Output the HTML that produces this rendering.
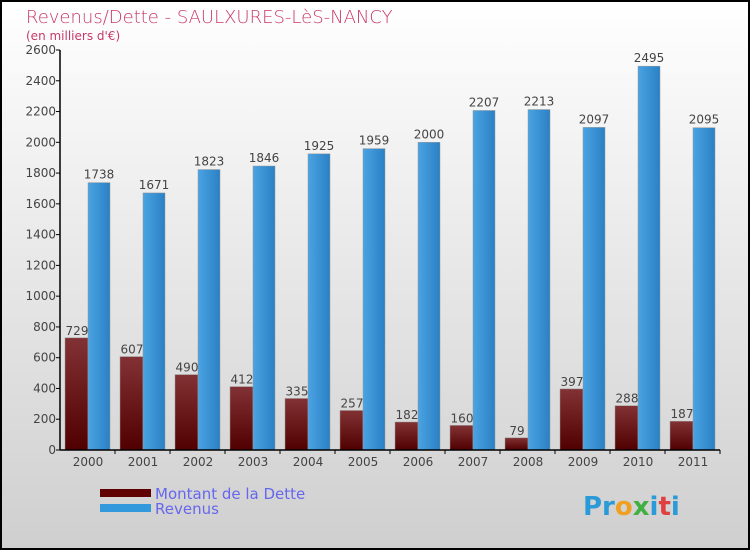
<!DOCTYPE html>
<html><head><meta charset="utf-8"><style>
body{margin:0}
#c{width:750px;height:550px;position:relative;overflow:hidden;font-family:"DejaVu Sans","Liberation Sans",sans-serif}
</style></head><body>
<div id="c">
<svg width="750" height="550" xmlns="http://www.w3.org/2000/svg">
<defs>
<linearGradient id="bg" x1="0" y1="0" x2="0" y2="1"><stop offset="0" stop-color="#ffffff"/><stop offset="1" stop-color="#cfcfcf"/></linearGradient>
<linearGradient id="gd" x1="0" y1="0" x2="0" y2="1"><stop offset="0" stop-color="#823234"/><stop offset="1" stop-color="#500000"/></linearGradient>
<linearGradient id="gr" x1="0" y1="0" x2="1" y2="0"><stop offset="0" stop-color="#4aa3e2"/><stop offset="1" stop-color="#2a80c4"/></linearGradient>
</defs>
<rect x="1" y="1" width="748" height="548" fill="url(#bg)" stroke="#000" stroke-width="2"/>
<text x="26" y="23" font-size="18" fill="#c8386a" font-weight="300">Revenus/Dette - SAULXURES-LèS-NANCY</text>
<text x="26" y="40" font-size="12" fill="#c8386a">(en milliers d'€)</text>
<g id="plot"></g>
<rect x="100" y="489" width="51" height="8" fill="#600000"/>
<rect x="100" y="504" width="51" height="8" fill="#3399dd"/>
<text x="155" y="499" font-size="15" fill="#6666ee">Montant de la Dette</text>
<text x="155" y="514" font-size="15" fill="#6666ee">Revenus</text>
<text x="583" y="515" font-size="26" font-weight="bold" font-family="DejaVu Sans, sans-serif"><tspan fill="#2a9ad8">Pr</tspan><tspan fill="#f0a020">o</tspan><tspan fill="#40b040">x</tspan><tspan fill="#2a9ad8">i</tspan><tspan fill="#e04040">t</tspan><tspan fill="#2a9ad8">i</tspan></text>
</svg>
</div>
<script>
const years=["2000","2001","2002","2003","2004","2005","2006","2007","2008","2009","2010","2011"];
const dette=[729,607,490,412,335,257,182,160,79,397,288,187];
const revenus=[1738,1671,1823,1846,1925,1959,2000,2207,2213,2097,2495,2095];
const yTicks=[0,200,400,600,800,1000,1200,1400,1600,1800,2000,2200,2400,2600];
const NS="http://www.w3.org/2000/svg";
const g=document.getElementById('plot');
const x0=60,y0=450,yMax=2600,h=400,gw=55;
const y=v=>y0-v/yMax*h;
function el(t,a,txt){const e=document.createElementNS(NS,t);for(const k in a)e.setAttribute(k,a[k]);if(txt!=null)e.textContent=txt;g.appendChild(e);return e;}
yTicks.forEach(v=>{
 const t=el('line',{x1:x0-4,x2:x0,y1:y(v),y2:y(v),stroke:'#000'});
 
 
 const l=el('text',{x:x0-4,y:y(v)+4,'font-size':12,fill:'#444','text-anchor':'end'},v);
 
 
});
years.forEach((yr,i)=>{
 const gx=x0+gw*i;
 const b1=el('rect',{x:gx+5,y:y(dette[i]),width:23,height:y0-y(dette[i]),fill:'url(#gd)',stroke:'#999','stroke-width':0.5});
 
 
 const b2=el('rect',{x:gx+28,y:y(revenus[i]),width:22,height:y0-y(revenus[i]),fill:'url(#gr)',stroke:'#999','stroke-width':0.5});
 
 
 const l1=el('text',{x:gx+17,y:y(dette[i])-3,'font-size':12,fill:'#444','text-anchor':'middle'},dette[i]);
 
 
 const l2=el('text',{x:gx+39,y:y(revenus[i])-4,'font-size':12,fill:'#444','text-anchor':'middle'},revenus[i]);
 
 
 const tk=el('line',{x1:gx+gw,x2:gx+gw,y1:y0,y2:y0+4,stroke:'#000'});
 
 
 const xl=el('text',{x:gx+28,y:y0+16,'font-size':12,fill:'#444','text-anchor':'middle'},yr);
 
 
});
const ax=el('line',{x1:x0,x2:x0,y1:y(yMax),y2:y0,stroke:'#000','stroke-width':1.5});


const bx=el('line',{x1:x0,x2:x0+gw*12,y1:y0,y2:y0,stroke:'#000','stroke-width':1.5});


</script>
</body></html>
